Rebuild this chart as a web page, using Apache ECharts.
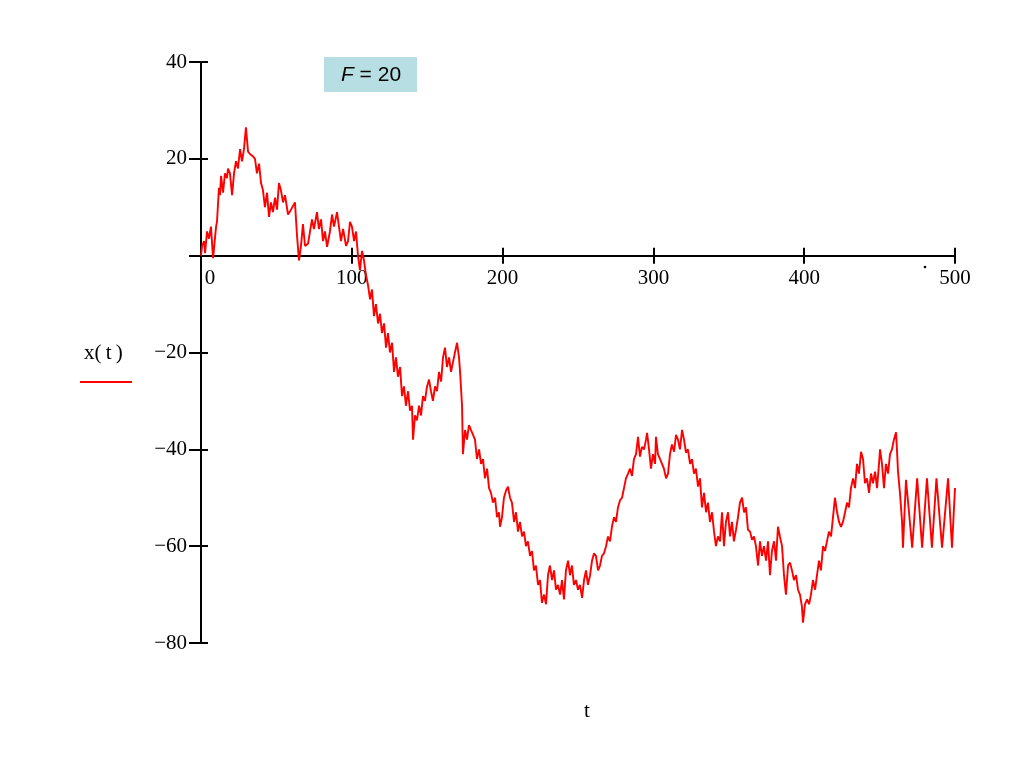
<!DOCTYPE html>
<html>
<head>
<meta charset="utf-8">
<script src="https://cdn.jsdelivr.net/npm/echarts@6/dist/echarts.min.js"></script>
<style>html,body{margin:0;padding:0;background:#fff}#c{width:1024px;height:768px}</style>
</head>
<body>
<div id="c"></div>
<script>
// ---- data ----
const tValues = [
0,0.7,2,2.7,4,5.3,6.6,8,10,10.6,11.9,12.6,13.3,14.6,15.9,17.2,17.9,19.2,20.6,21.9,
23.2,24.5,25.9,27.2,28.5,29.8,31.2,32.5,34.5,35.8,37.1,38.5,39.8,41.1,42.4,43.8,45.1,46.4,47.7,49.1,
50.4,51.7,53,54.4,55.7,57.7,59.7,62.3,63.7,65,66.3,67.6,69,71,72.3,73.6,74.9,76.9,78.2,79.6,
80.9,82.2,83.6,85.5,86.9,88.2,90.2,91.5,92.8,94.2,96.2,97.5,98.8,100.1,101.5,102.8,104.1,105.4,106.8,108.1,
109.4,110.7,112.1,113.4,114.7,116,117.4,118.7,120,121.4,122.7,124,125.3,126.7,128,129.3,130.6,132,133.3,134.6,
135.9,137.3,138.6,139.9,140.6,141.9,143.2,144.6,145.9,147.2,148.5,149.9,151.2,152.5,153.8,155.2,156.5,157.8,159.2,160.5,
161.8,163.1,164.5,165.8,167.1,168.4,169.8,170.4,171.1,171.8,173.1,173.7,175.1,176.4,177.7,179,180.4,181.7,183,184.4,
185.7,187,188.3,189.7,191,192.3,193.6,195,196.3,197.6,198.3,199.6,200.9,202.3,203.6,204.9,206.2,207.6,208.9,210.2,
211.5,212.9,214.2,215.5,216.8,218.2,219.5,220.8,222.1,223.5,224.8,226.1,227.5,228.8,230.1,231.4,232.8,234.1,235.4,236.7,
238.1,239.4,240.7,242,243.4,244.7,246,247.3,248.7,250,251.3,252.7,254,255.3,256.6,258,259.3,260.6,261.9,263.3,
264.6,265.9,267.2,268.6,269.9,271.2,272.5,273.9,275.2,276.5,277.9,279.2,280.5,281.8,283.2,284.5,285.8,287.1,288.5,289.8,
291.1,292.4,293.8,295.1,295.8,297.1,298.4,299.7,301.1,301.7,303,304.4,305.7,307,308.4,309.7,311,312.3,313.7,315,
316.3,317.6,319,320.3,321.6,322.9,324.3,325.6,326.9,328.2,329.6,330.9,332.2,333.6,334.9,336.2,337.5,338.9,340.2,341.5,
342.8,344.2,345.5,346.8,348.1,349.5,350.8,352.1,353.4,354.8,356.1,357.4,358.8,360.1,361.4,362.7,364.1,365.4,366.7,368,
369.4,370.7,372,373.3,374.7,376,377.3,378.6,380,381.3,382.6,383.9,385.3,386.6,387.9,389.3,390.6,391.9,393.2,394.6,
395.9,397.2,398.5,399.2,400.5,401.9,403.2,404.5,405.8,407.2,408.5,409.8,411.1,412.5,413.8,415.1,416.4,417.8,419.1,420.4,
421.8,423.1,424.4,425.7,427.1,428.4,429.7,431,432.4,433.7,435,436.3,437.7,439,440.3,441.6,443,444.3,445.6,447,
448.3,449.6,450.3,451.6,452.9,454.2,455.6,456.9,458.2,459.5,460.9,461.5,462.2,463.5,464.9,465.5,467.5,469.5,471.6,474.9,
478.2,481.4,484.7,487.7,491.4,495.4,498,500
];
const xValues = [
0,2,3,0.5,5,3.5,6,-0.5,6,7,14,12.5,16.5,13,17,16,18,17,12.5,17,
19.5,18,22,19.5,22,26.5,21.5,21,20.5,20,17,19,15,13.5,10,13,8,11,9,12,
9.5,15,13.5,11,12.5,8.5,9.5,11,4,-1,2,6.5,2,2.5,5,7.5,5.5,9,5.5,7.5,
3,5,1.8,5,8.5,6,9,6,3,5.5,2,3,7,6,3,5,0,-3,1,-1,
-4,-6,-9,-7,-12.5,-10,-14,-12,-16,-14,-19,-16,-20,-18,-24,-21,-25,-23,-29,-27,
-31,-28,-32,-31,-38,-33,-34,-31,-33,-29,-30,-27,-25.6,-28,-30,-27,-28,-24,-26,-21,
-19,-23,-21,-24,-22,-20,-18,-17.6,-21,-24,-31,-41,-36,-38,-35,-36,-37,-38,-42,-40,
-43,-42,-46,-44,-48,-49,-51,-50,-54,-53,-56,-54,-50,-48.5,-47.7,-50,-51,-55,-53,-57,
-55,-58,-57,-60,-59,-62,-61,-65,-64,-68,-67,-71.7,-70,-72,-66,-64,-67,-65,-69,-68,
-70,-67,-71,-65,-63,-66,-64,-68,-67,-69,-68,-70.7,-67,-65,-68,-66,-63,-61.5,-62,-65,
-64,-62,-61.5,-60,-58,-59,-56,-54,-55,-52,-50.5,-50,-48,-46,-45,-44,-45.5,-42,-41,-37.4,
-41.5,-39.5,-40,-38,-36.6,-40,-44,-41,-43,-37.4,-41,-42,-43,-44,-46,-45,-41,-39,-40.5,-37,
-38,-40,-36,-38,-40.7,-40,-43,-42,-45,-44,-47.7,-46,-52,-49,-53,-51,-55,-53,-57,-60,
-58,-59,-53,-60,-55,-53,-58,-55,-59,-56.6,-54,-51,-50,-53,-52,-56.6,-57,-58.7,-58,-60,
-64,-59,-62,-60,-63,-59,-66,-61,-59,-63,-56,-58,-60,-66,-70,-64,-63.4,-65,-67,-66,
-69,-70,-72.5,-75.8,-72,-71,-72,-70,-67,-69,-66,-63,-65,-60,-61,-59,-57,-58,-54,-50,
-53,-55,-56,-55,-53,-51,-52,-48,-46,-48,-43,-45,-40.5,-42,-47,-46,-49,-45,-47,-44.6,
-48,-43,-40,-43,-48,-43,-45,-41,-40,-38,-36.5,-40,-44.6,-49,-55,-60.3,-46.3,-53,-60.3,-46,
-60.3,-46,-60.3,-46,-60.3,-46,-60.3,-48
];
const xTickValues = [0, 100, 200, 300, 400, 500];
const yTickValues = [-80, -60, -40, -20, 0, 20, 40];
const seriesName = 'x(t)';
const xAxisName = 't';
const annotation = { name: 'F', value: 20 };

// ---- chart ----
const chart = echarts.init(document.getElementById('c'), null, { renderer: 'canvas' });
const serif = '"Liberation Serif", "Times New Roman", serif';
const fmtNum = v => (v < 0 ? '\u2212' + Math.abs(v) : String(v));
const xMin = xTickValues[0], xMax = xTickValues[xTickValues.length - 1];
const yMin = yTickValues[0], yMax = yTickValues[yTickValues.length - 1];

const commonX = { type: 'value', min: xMin, max: xMax, interval: 100, splitLine: { show: false } };
const commonY = { type: 'value', min: yMin, max: yMax, interval: 20, splitLine: { show: false } };

chart.setOption({
  animation: false,
  backgroundColor: '#fff',
  grid: { left: 201, right: 69, top: 62, bottom: 125 },
  xAxis: [
    Object.assign({}, commonX, {
      position: 'bottom',
      axisLine: { onZero: true, lineStyle: { color: '#000', width: 2 } },
      axisTick: { inside: false, length: 8, lineStyle: { color: '#000', width: 2 } },
      axisLabel: {
        color: '#000', fontFamily: serif, fontSize: 21, margin: -375,
        formatter: v => (v === 0 ? '{z|0}' : fmtNum(v)),
        rich: { z: { padding: [0, 0, 0, 18], fontFamily: serif, fontSize: 21, color: '#000' } }
      }
    }),
    Object.assign({}, commonX, {
      position: 'bottom',
      axisLine: { onZero: true, lineStyle: { color: '#000', width: 2 } },
      axisTick: { inside: true, length: 8, lineStyle: { color: '#000', width: 2 } },
      axisLabel: { show: false }
    })
  ],
  yAxis: [
    Object.assign({}, commonY, {
      position: 'left',
      axisLine: { onZero: false, lineStyle: { color: '#000', width: 2 } },
      axisTick: { inside: false, length: 12, lineStyle: { color: '#000', width: 2 } },
      axisLabel: { color: '#000', fontFamily: serif, fontSize: 21, margin: 14,
        formatter: v => (v === 0 ? '' : fmtNum(v)) }
    }),
    Object.assign({}, commonY, {
      position: 'left',
      axisLine: { show: false, onZero: false },
      axisTick: { inside: true, length: 7, lineStyle: { color: '#000', width: 2 } },
      axisLabel: { show: false }
    })
  ],
  series: [{
    name: seriesName,
    type: 'line',
    xAxisIndex: 0,
    yAxisIndex: 0,
    data: tValues.map((t, i) => [t, xValues[i]]),
    showSymbol: false,
    symbol: 'none',
    lineStyle: { color: '#ff0000', width: 1.9 },
    clip: true
  }],
  graphic: [
    { type: 'text', left: 84, top: 343, style: { text: 'x(\u2009t\u2009)', font: '21px ' + serif, fill: '#000' } },
    { type: 'line', shape: { x1: 80, y1: 382, x2: 132, y2: 382 }, style: { stroke: '#ff0000', lineWidth: 2 } },
    { type: 'text', left: 584, top: 701, style: { text: xAxisName, font: '21px ' + serif, fill: '#000' } },
    { type: 'rect', shape: { x: 324, y: 57, width: 93, height: 35 }, style: { fill: '#b7dfe3' } },
    { type: 'text', x: 371, y: 75,
      style: {
        text: '{i|' + annotation.name + '}{n| = ' + annotation.value + '}',
        align: 'center', verticalAlign: 'middle',
        rich: {
          i: { fontFamily: '"Liberation Sans", Arial, sans-serif', fontStyle: 'italic', fontSize: 21, fill: '#000' },
          n: { fontFamily: '"Liberation Sans", Arial, sans-serif', fontSize: 21, fill: '#000' }
        }
      } },
    { type: 'circle', shape: { cx: 925, cy: 267, r: 1.3 }, style: { fill: '#000' } }
  ]
});
</script>
</body>
</html>
